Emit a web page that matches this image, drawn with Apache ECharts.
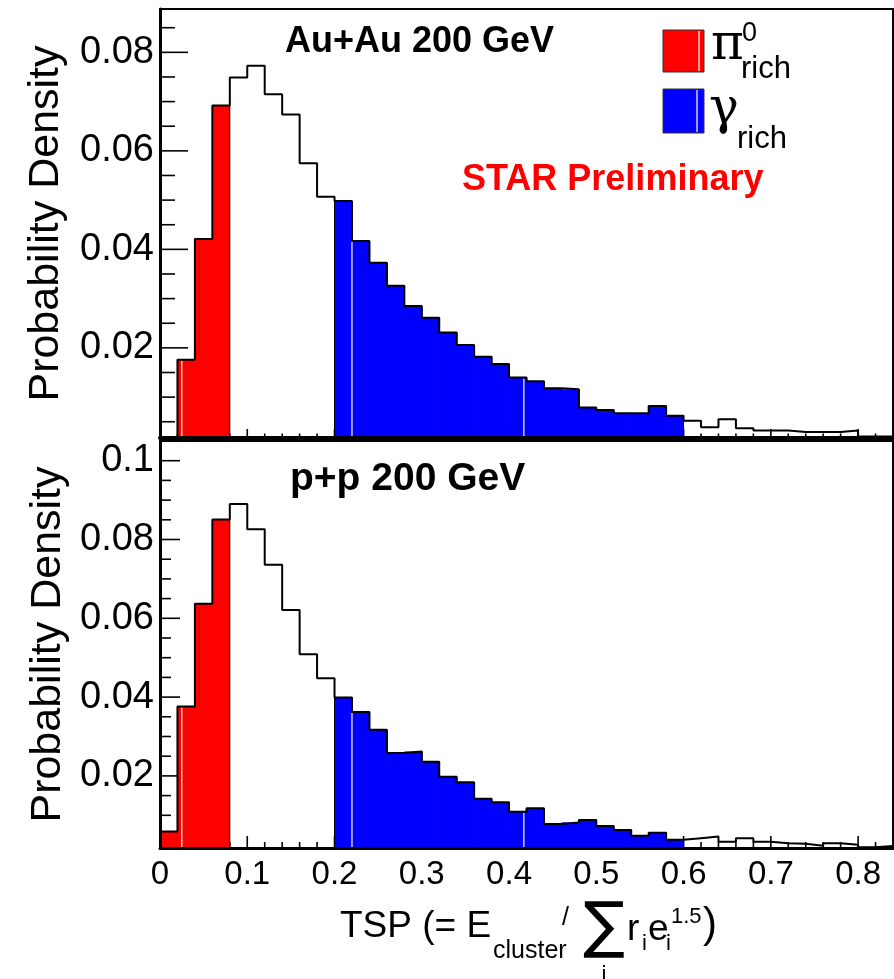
<!DOCTYPE html>
<html>
<head>
<meta charset="utf-8">
<script src="https://cdn.jsdelivr.net/npm/echarts@6/dist/echarts.min.js"></script>
<style>
html,body{margin:0;padding:0;background:#fff;}
#chart{width:894px;height:979px;}
</style>
</head>
<body>
<div id="chart"></div>
<script>
// ---------------- data ----------------
const binLow = [0.00,0.02,0.04,0.06,0.08,0.10,0.12,0.14,0.16,0.18,
                0.20,0.22,0.24,0.26,0.28,0.30,0.32,0.34,0.36,0.38,
                0.40,0.42,0.44,0.46,0.48,0.50,0.52,0.54,0.56,0.58,
                0.60,0.62,0.64,0.66,0.68,0.70,0.72,0.74,0.76,0.78,
                0.80,0.82];
const binWidth = 0.02;
const auauDensity = [0.0000,0.0176,0.0421,0.0692,0.0749,0.0773,0.0715,0.0674,0.0575,0.0507,
                     0.0498,0.0417,0.0373,0.0326,0.0285,0.0261,0.0231,0.0206,0.0182,0.0167,
                     0.0140,0.0132,0.0118,0.0116,0.0079,0.0074,0.0067,0.0067,0.0082,0.0062,
                     0.0052,0.0039,0.0055,0.0037,0.0032,0.0032,0.0029,0.0029,0.0029,0.0032,
                     0.0020,0.0020];
const ppDensity   = [0.0059,0.0376,0.0637,0.0851,0.0890,0.0826,0.0736,0.0621,0.0509,0.0448,
                     0.0399,0.0362,0.0317,0.0258,0.0262,0.0236,0.0198,0.0184,0.0142,0.0133,
                     0.0109,0.0118,0.0078,0.0082,0.0088,0.0073,0.0063,0.0048,0.0056,0.0038,
                     0.0042,0.0046,0.0033,0.0042,0.0033,0.0029,0.0028,0.0023,0.0029,0.0025,
                     0.0019,0.0022];
const piRichRange = [0.00, 0.08];
const gammaRichRange = [0.20, 0.60];
const whiteLineX = [0.025, 0.22, 0.417];
const xTickValues = [0,0.1,0.2,0.3,0.4,0.5,0.6,0.7,0.8];
const xMinorTickValues = [0.02,0.04,0.06,0.08,0.12,0.14,0.16,0.18,0.22,0.24,0.26,0.28,
                          0.32,0.34,0.36,0.38,0.42,0.44,0.46,0.48,0.52,0.54,0.56,0.58,
                          0.62,0.64,0.66,0.68,0.72,0.74,0.76,0.78,0.82];
const auauYTicks = [0.02,0.04,0.06,0.08];
const auauYMinorTicks = [0.005,0.01,0.015,0.025,0.03,0.035,0.045,0.05,0.055,0.065,0.07,0.075,0.085];
const ppYTicks = [0.02,0.04,0.06,0.08,0.1];
const ppYMinorTicks = [0.005,0.01,0.015,0.025,0.03,0.035,0.045,0.05,0.055,0.065,0.07,0.075,0.085,0.09,0.095];
const panelTitles = ['Au+Au 200 GeV','p+p 200 GeV'];
const yTitle = 'Probability Density';
const xMax = 0.84;
const auauYRange = [0.0017, 0.0888];
const ppYRange = [0.0017, 0.1050];

// ---------------- helpers ----------------
const FONT = "'Liberation Sans', Arial, Helvetica, sans-serif";
const TICK_COLOR = '#000';
function regionColor(xlo){
  if (xlo >= piRichRange[0]-1e-9 && xlo < piRichRange[1]-1e-9) return '#ff0000';
  if (xlo >= gammaRichRange[0]-1e-9 && xlo < gammaRichRange[1]-1e-9) return '#0000ff';
  return null;
}
function fillSeries(p, vals, yMin){
  return {
    type:'custom', xAxisIndex:p, yAxisIndex:p, clip:true, z:2, silent:true,
    data: binLow.map((x,i)=>[x, x+binWidth, vals[i]]),
    encode:{x:[0,1], y:2},
    renderItem(params, api){
      const i = params.dataIndex;
      const x0 = api.value(0), x1 = api.value(1), v = api.value(2);
      const c = regionColor(x0);
      if (!c || v <= yMin) return null;
      const p0 = api.coord([x0, v]);
      const p1 = api.coord([x1, yMin]);
      const prevC = i>0 ? regionColor(binLow[i-1]) : null;
      const nextC = i<binLow.length-1 ? regionColor(binLow[i+1]) : null;
      const extra = nextC === c ? 0.7 : 0;
      const children = [{type:'rect', shape:{x:p0[0], y:p0[1], width:p1[0]-p0[0]+extra, height:p1[1]-p0[1]}, style:{fill:c}}];
      if (prevC !== c && i>0) children.push({type:'line', shape:{x1:p0[0], y1:p0[1], x2:p0[0], y2:p1[1]}, style:{stroke:'#000', lineWidth:1}});
      if (nextC !== c) children.push({type:'line', shape:{x1:p1[0], y1:p0[1], x2:p1[0], y2:p1[1]}, style:{stroke:'#000', lineWidth:1}});
      return {type:'group', children};
    }
  };
}
function whiteLineSeries(p, vals, yMin){
  return {
    type:'custom', xAxisIndex:p, yAxisIndex:p, clip:true, z:3, silent:true,
    data: whiteLineX.map(x => [x, vals[Math.floor(x/binWidth + 1e-9)]]),
    encode:{x:0, y:1},
    renderItem(params, api){
      const pTop = api.coord([api.value(0), api.value(1)]);
      const pBot = api.coord([api.value(0), yMin]);
      return {type:'line', shape:{x1:pTop[0], y1:pTop[1]+1, x2:pBot[0], y2:pBot[1]}, style:{stroke:'#ffffff', lineWidth:1.2}};
    }
  };
}
function outlineSeries(p, vals){
  const pts = binLow.map((x,i)=>[x, vals[i]]);
  pts.push([binLow[binLow.length-1]+binWidth, vals[vals.length-1]]);
  return {
    type:'line', xAxisIndex:p, yAxisIndex:p, step:'end', symbol:'none',
    data:pts, clip:true, z:4, silent:true,
    lineStyle:{color:'#000', width:2}
  };
}
// inward ROOT-style ticks, positioned through the axes' own scales (drawn beneath the fills)
function yTickSeries(p, values, len){
  return {
    type:'custom', xAxisIndex:p, yAxisIndex:p, clip:false, z:1, silent:true,
    data: values.map(v => [0, v]),
    encode:{x:0, y:1},
    renderItem(params, api){
      const pt = api.coord([0, api.value(1)]);
      return {type:'line', shape:{x1:pt[0], y1:pt[1], x2:pt[0]+len, y2:pt[1]}, style:{stroke:TICK_COLOR, lineWidth:1.6}};
    }
  };
}
function xTickSeries(p, values, len, yMin){
  return {
    type:'custom', xAxisIndex:p, yAxisIndex:p, clip:false, z:1, silent:true,
    data: values.map(v => [v, yMin]),
    encode:{x:0, y:1},
    renderItem(params, api){
      const pt = api.coord([api.value(0), yMin]);
      return {type:'line', shape:{x1:pt[0], y1:pt[1], x2:pt[0], y2:pt[1]-len}, style:{stroke:TICK_COLOR, lineWidth:1.6}};
    }
  };
}
function xAxis(gridIndex, showLabels, lineWidth){
  return {type:'value', gridIndex, min:0, max:xMax, position:'bottom', z:5,
     axisLine:{show:true, onZero:false, lineStyle:{color:'#000', width:lineWidth}},
     axisTick:{show:false},
     axisLabel:{show:showLabels, customValues:xTickValues, margin:10, color:'#000', fontSize:33, fontFamily:FONT},
     splitLine:{show:false}};
}
function yAxis(gridIndex, range, ticks, nameGap){
  return {type:'value', gridIndex, min:range[0], max:range[1], position:'left', z:5,
     name:yTitle, nameLocation:'middle', nameGap,
     nameTextStyle:{fontSize:43, color:'#000', fontFamily:FONT},
     axisLine:{show:true, onZero:false, lineStyle:{color:'#000', width:3}},
     axisTick:{show:false},
     axisLabel:{show:true, customValues:ticks, margin:6, color:'#000', fontSize:38, fontFamily:FONT},
     splitLine:{show:false}};
}
function txt(text, x, y, size, opts){
  opts = opts || {};
  return {type:'text', x, y, z:100, silent:true,
    style:{text, fontSize:size, fontFamily:opts.family||FONT, fontWeight:opts.weight||'normal',
           fill:opts.color||'#000', align:opts.align||'left', verticalAlign:'middle'}};
}

const chart = echarts.init(document.getElementById('chart'), null, {renderer:'canvas'});
chart.setOption({
  animation:false,
  backgroundColor:'#ffffff',
  grid:[
    {left:160, top:9, width:733, height:429, show:true, borderColor:'#000', borderWidth:2, backgroundColor:'transparent'},
    {left:160, top:441, width:733, height:407, show:true, borderColor:'#000', borderWidth:2, backgroundColor:'transparent'}
  ],
  xAxis:[xAxis(0, false, 4), xAxis(1, true, 3)],
  yAxis:[yAxis(0, auauYRange, auauYTicks, 92), yAxis(1, ppYRange, ppYTicks, 90)],
  series:[
    yTickSeries(0, auauYTicks, 28),
    yTickSeries(0, auauYMinorTicks, 15),
    xTickSeries(0, xTickValues, 9, auauYRange[0]),
    xTickSeries(0, xMinorTickValues, 4.5, auauYRange[0]),
    fillSeries(0, auauDensity, auauYRange[0]),
    whiteLineSeries(0, auauDensity, auauYRange[0]),
    outlineSeries(0, auauDensity),
    yTickSeries(1, ppYTicks, 20),
    yTickSeries(1, ppYMinorTicks, 11),
    xTickSeries(1, xTickValues, 12, ppYRange[0]),
    xTickSeries(1, xMinorTickValues, 6, ppYRange[0]),
    fillSeries(1, ppDensity, ppYRange[0]),
    whiteLineSeries(1, ppDensity, ppYRange[0]),
    outlineSeries(1, ppDensity)
  ],
  graphic:[
    txt(panelTitles[0], 285, 42, 36, {weight:'bold'}),
    txt(panelTitles[1], 290, 479, 39, {weight:'bold'}),
    txt('STAR Preliminary', 462, 180, 36, {weight:'bold', color:'#ff0000'}),
    {type:'rect', z:100, silent:true, shape:{x:663, y:30, width:41, height:42}, style:{fill:'#ff0000', stroke:'#333', lineWidth:1}},
    {type:'line', z:101, silent:true, shape:{x1:699, y1:31, x2:699, y2:71}, style:{stroke:'#fff', lineWidth:1.2}},
    {type:'rect', z:100, silent:true, shape:{x:663, y:89, width:41, height:44}, style:{fill:'#0000ff', stroke:'#333', lineWidth:1}},
    {type:'line', z:101, silent:true, shape:{x1:697, y1:90, x2:697, y2:132}, style:{stroke:'#fff', lineWidth:1.2}},
    txt('\u03c0', 711, 46, 50, {family:"'DejaVu Serif', serif"}),
    txt('0', 742, 34, 27),
    txt('rich', 741, 69, 31),
    txt('\u03b3', 709, 110, 50, {family:"'DejaVu Serif', serif"}),
    txt('rich', 737, 139, 31),
    txt('TSP (= E', 340, 927, 37),
    txt('cluster', 493, 951, 25),
    txt('/', 562, 918, 25),
    txt('\u2211', 604, 930, 62, {align:'center', family:"'DejaVu Sans', sans-serif"}),
    txt('i', 604, 975, 22, {align:'center'}),
    txt('r', 627, 930, 37),
    txt('i', 642, 944, 22),
    txt('e', 648, 930, 37),
    txt('i', 666, 944, 22),
    txt('1.5', 671, 917, 22),
    txt(')', 703, 925, 42)
  ]
});
</script>
</body>
</html>
